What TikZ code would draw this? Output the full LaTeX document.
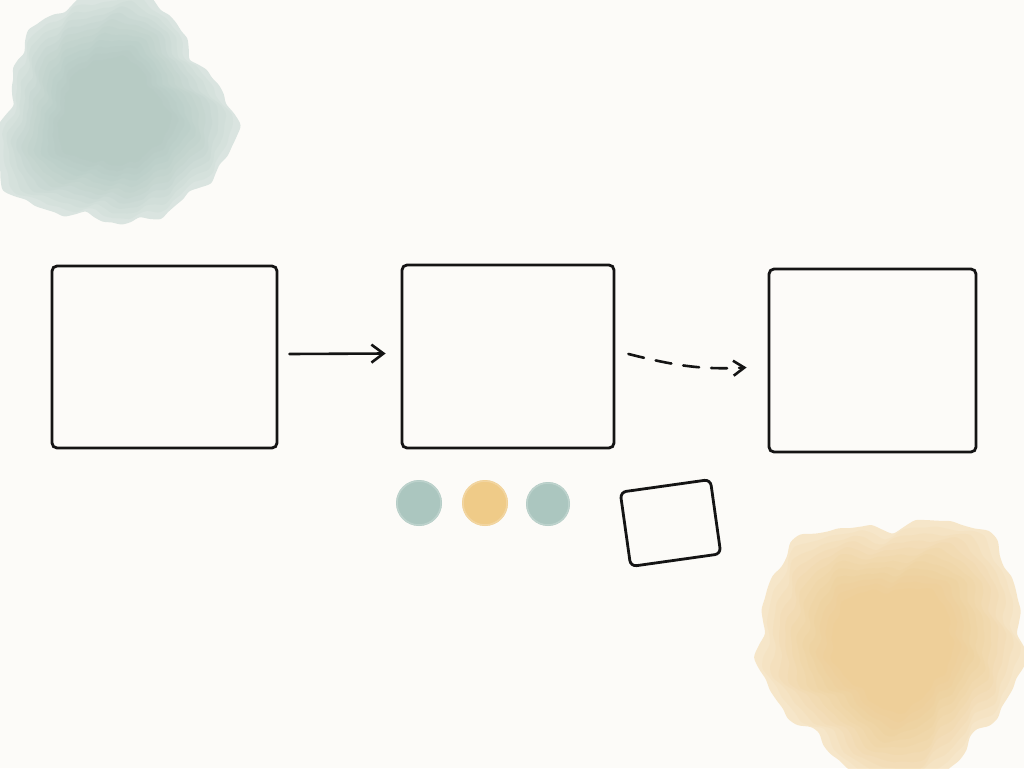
\documentclass[tikz,border=0pt]{standalone}
\usetikzlibrary{arrows.meta}
\definecolor{paper}{HTML}{FCFBF8}
\definecolor{sage}{HTML}{A4C1B9}
\definecolor{ochre}{HTML}{EEC67E}
\definecolor{ink}{HTML}{141414}
\tikzset{
  box/.style={draw=ink, line width=2.8pt, rounded corners=5pt, fill=none, inner sep=0pt},
  conn/.style={draw=ink, line width=2.6pt, line cap=round, -{Straight Barb[length=12pt,width=18pt,line width=2.6pt]}},
  dconn/.style={conn, dash pattern=on 16pt off 12pt, -{Straight Barb[length=11pt,width=15pt,line width=2.6pt]}},
  dot/.style={circle, minimum size=46pt, inner sep=0pt},
}
\begin{document}
\begin{tikzpicture}[x=1pt,y=-1pt]
\fill[paper] (0,0) rectangle (1024,768);
\useasboundingbox (0,0) rectangle (1024,768);

% sage watercolour blob (top left)
\foreach \k in {0,...,11}{
  \pgfmathsetmacro{\R}{114-5.5*\k}
  \pgfmathsetmacro{\op}{\k==0 ? 0.38 : 0.08}
  \pgfmathsetmacro{\ph}{37*\k}
  \fill[sage, opacity=\op] plot[smooth cycle, domain=0:355, samples=72, variable=\t]
    ({112+\R*(1+0.08*sin(3*\t+20)+0.05*sin(5*\t+70)+0.025*sin(13*\t+\ph)+0.015*sin(23*\t+2*\ph))*cos(\t)},
     {114+\R*(1+0.08*sin(3*\t+20)+0.05*sin(5*\t+70)+0.025*sin(13*\t+\ph)+0.015*sin(23*\t+2*\ph))*sin(\t)});
}
% ochre watercolour blob (bottom right)
\foreach \k in {0,...,11}{
  \pgfmathsetmacro{\R}{132-6.5*\k}
  \pgfmathsetmacro{\op}{\k==0 ? 0.38 : 0.08}
  \pgfmathsetmacro{\ph}{41*\k}
  \fill[ochre, opacity=\op] plot[smooth cycle, domain=0:355, samples=72, variable=\t]
    ({893+\R*(1+0.07*sin(3*\t+200)+0.05*sin(5*\t+10)+0.025*sin(13*\t+\ph)+0.015*sin(21*\t+2*\ph))*cos(\t)},
     {645+\R*(1+0.07*sin(3*\t+200)+0.05*sin(5*\t+10)+0.025*sin(13*\t+\ph)+0.015*sin(21*\t+2*\ph))*sin(\t)});
}

% boxes
\node[box, minimum width=225pt, minimum height=182pt] (b1) at (164.5,357) {};
\node[box, minimum width=212pt, minimum height=183pt] (b2) at (508,356.5) {};
\node[box, minimum width=207pt, minimum height=183pt] (b3) at (872.5,360.5) {};

% connectors
\draw[conn] ([xshift=11pt,yshift=3pt]b1.east) -- ([xshift=-15pt,yshift=3pt]b2.west);
\draw[dconn] ([xshift=13pt,yshift=2.5pt]b2.east) to[out=-14,in=183] ([xshift=-21pt,yshift=-7pt]b3.west);

% dots
\node[dot, fill=sage!92!white] (d1) at (419,503) {};
\node[dot, fill=ochre!92!white] (d2) at (485,503) {};
\node[dot, fill=sage!92!white, minimum size=44pt] (d3) at (548,504) {};
\draw[sage!60!white, line width=1.5pt, opacity=0.6] (d1.center) circle (22pt);
\draw[ochre!60!white, line width=1.5pt, opacity=0.6] (d2.center) circle (22pt);
\draw[sage!60!white, line width=1.5pt, opacity=0.6] (d3.center) circle (21pt);

% tilted small box
\node[box, minimum width=91pt, minimum height=75pt, rotate=8, rounded corners=6pt] (sb) at (670.5,523) {};
\end{tikzpicture}
\end{document}
